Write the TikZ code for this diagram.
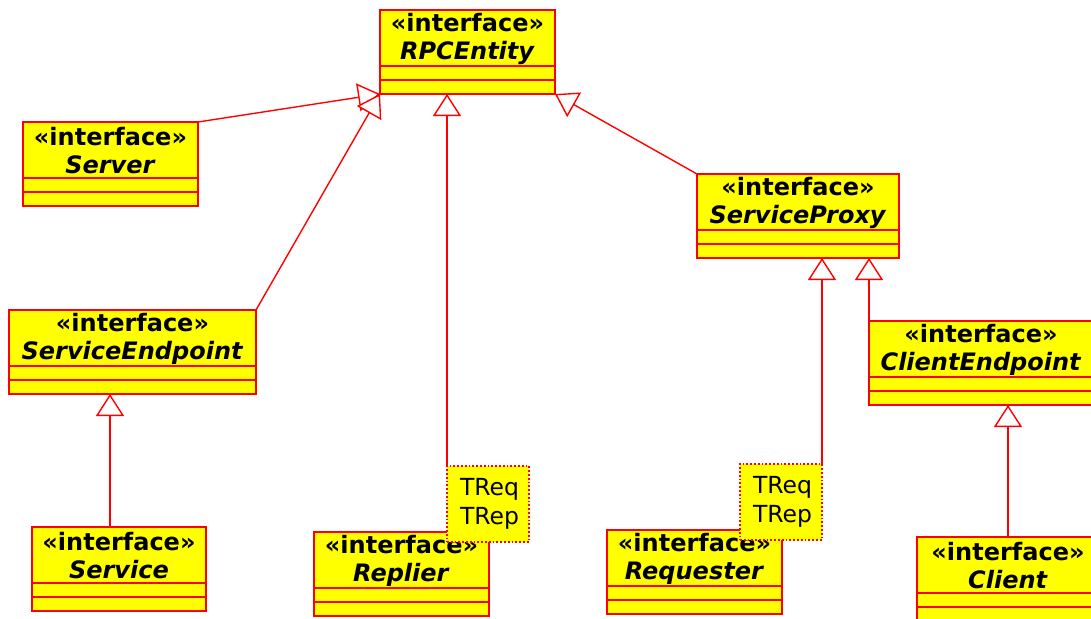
\documentclass[tikz,border=0pt]{standalone}
\usepackage{fontspec}
\setmainfont{DejaVu Sans}
\usetikzlibrary{arrows.meta}
\definecolor{umlred}{RGB}{255,0,0}
\definecolor{umlyel}{RGB}{255,255,0}
\tikzset{
  clsbox/.style={draw=umlred, fill=umlyel, line width=1.8pt, inner sep=0pt, outer sep=0pt, anchor=north west, minimum height=84pt},
  sepline/.style={draw=umlred, line width=1.8pt},
  clstitle/.style={align=center, inner sep=0pt, font=\fontsize{24}{28}\selectfont},
  parambox/.style={draw=umlred, dotted, fill=umlyel, line width=1.8pt, inner sep=0pt, outer sep=0pt, anchor=north west, minimum width=82pt, minimum height=76pt, align=left, text width=76pt, font=\fontsize{23.5}{29}\selectfont},
  gen/.style={draw=umlred, line width=1.4pt, -{Triangle[length=22pt, width=28pt, fill=white, line width=1.4pt]}},
}
\newcommand\umlclass[5]{%
  \node[clsbox, minimum width={(#4-#2)*1pt}] (#1) at (#2,#3) {};
  \draw[sepline] ([yshift=-56pt]#1.north west) -- ([yshift=-56pt]#1.north east);
  \draw[sepline] ([yshift=-70pt]#1.north west) -- ([yshift=-70pt]#1.north east);
  \node[clstitle] (#1-t) at ([yshift=-29pt]#1.north) {\textbf{«interface»}\\\textbf{\textit{#5}}};
}
\begin{document}
\begin{tikzpicture}[x=1pt, y=-1pt]
\useasboundingbox (0,0) rectangle (1091,618);
\umlclass{RPCEntity}{380}{10}{555}{RPCEntity}
\umlclass{Server}{23}{122}{198}{Server}
\umlclass{ServiceProxy}{697}{174}{899}{ServiceProxy}
\umlclass{ServiceEndpoint}{9}{310}{256}{ServiceEndpoint}
\umlclass{Service}{32}{527}{206}{Service}
\umlclass{ClientEndpoint}{869}{321}{1093}{ClientEndpoint}
\umlclass{Client}{917}{537}{1099}{Client}
\umlclass{Replier}{314}{532}{489}{Replier}
\umlclass{Requester}{607}{530}{782}{Requester}
\node[parambox] (P1) at (447,466) {\hspace*{10pt}TReq\\\hspace*{10pt}TRep};
\node[parambox] (P2) at (740,464) {\hspace*{10pt}TReq\\\hspace*{10pt}TRep};
\coordinate (S1) at ([xshift=-9pt]Service.north);
\draw[gen] (Server.north east) -- (RPCEntity.south west);
\draw[gen] (ServiceEndpoint.north east) -- (RPCEntity.south west);
\draw[gen] (P1.north west) -- (P1.north west |- RPCEntity.south);
\draw[gen] (ServiceProxy.north west) -- (RPCEntity.south east);
\draw[gen] (P2.north east) -- (P2.north east |- ServiceProxy.south);
\draw[gen] (ClientEndpoint.north west) -- (ClientEndpoint.north west |- ServiceProxy.south);
\draw[gen] (Client.north) -- (ClientEndpoint.south -| Client.north);
\draw[gen] (S1) -- (ServiceEndpoint.south -| S1);
\end{tikzpicture}
\end{document}
